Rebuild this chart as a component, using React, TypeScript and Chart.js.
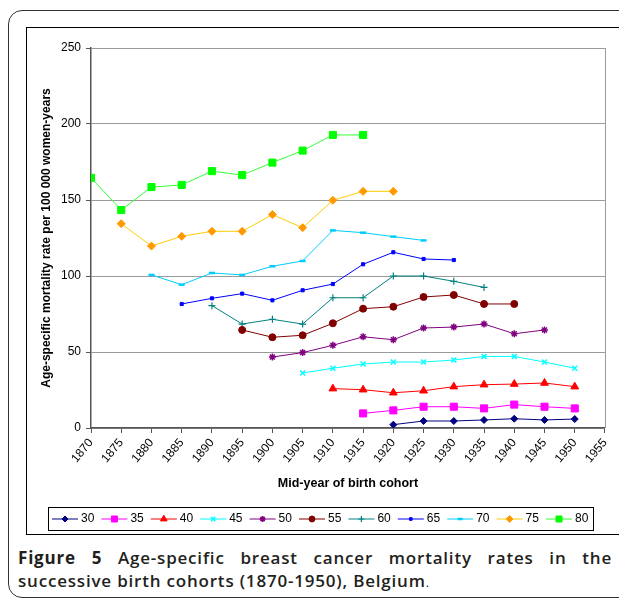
import React, { useEffect, useRef } from "react";
import { Chart, registerables } from "chart.js";
import { drawPoint } from "chart.js/helpers";

Chart.register(...registerables);

const cohortYears = [1870, 1875, 1880, 1885, 1890, 1895, 1900, 1905, 1910, 1915, 1920, 1925, 1930, 1935, 1940, 1945, 1950];
const xTicks = [1870, 1875, 1880, 1885, 1890, 1895, 1900, 1905, 1910, 1915, 1920, 1925, 1930, 1935, 1940, 1945, 1950, 1955];
const yTicks = [0, 50, 100, 150, 200, 250];

const age30 = [null, null, null, null, null, null, null, null, null, null, 2.2, 4.6, 4.6, 5.3, 6.1, 5.3, 5.9];
const age35 = [null, null, null, null, null, null, null, null, null, 9.6, 11.6, 14, 14, 12.9, 15.4, 14, 12.9];
const age40 = [null, null, null, null, null, null, null, null, 25.9, 25.2, 23.2, 24.5, 27.2, 28.5, 28.9, 29.6, 27.2];
const age45 = [null, null, null, null, null, null, null, 36.2, 39.3, 42.1, 43.4, 43.4, 44.7, 47.1, 47.1, 43.4, 39.3];
const age50 = [null, null, null, null, null, null, 46.7, 49.6, 54.4, 60, 58.1, 65.8, 66.4, 68.4, 62, 64.5, null];
const age55 = [null, null, null, null, null, 64.5, 59.7, 61, 68.9, 78.5, 79.8, 86.2, 87.5, 81.6, 81.6, null, null];
const age60 = [null, null, null, null, 80.5, 68.4, 71.5, 68.4, 85.7, 85.7, 100, 100, 96.5, 92.5, null, null, null];
const age65 = [null, null, null, 81.6, 85.3, 88.4, 84, 90.6, 94.7, 107.7, 115.6, 111.2, 110.5, null, null, null, null];
const age70 = [null, null, 100.7, 94.3, 102, 100.7, 106.4, 109.9, 130, 128.5, 125.9, 123.4, null, null, null, null, null];
const age75 = [null, 134.4, 119.7, 126.1, 129.4, 129.4, 140.4, 131.8, 149.8, 155.7, 155.7, null, null, null, null, null, null];
const age80 = [164.6, 143.4, 158.5, 159.9, 169, 166.4, 174.6, 182.5, 192.8, 192.8, null, null, null, null, null, null, null];

const seriesLabels = ["30", "35", "40", "45", "50", "55", "60", "65", "70", "75", "80"];
const seriesValues = [age30, age35, age40, age45, age50, age55, age60, age65, age70, age75, age80];

const styles = [
  { line: "#000080", fill: "#000080", point: "rectRot", r: 3.5, bw: 1 },
  { line: "#FF00FF", fill: "#FF00FF", point: "rect", r: 5, bw: 1 },
  { line: "#FF0000", fill: "#FF0000", point: "triangle", r: 4.5, bw: 1 },
  { line: "#00FFFF", fill: "#00FFFF", point: "crossRot", r: 3.5, bw: 1.5 },
  { line: "#800080", fill: "#800080", point: "star", r: 3.5, bw: 1.5 },
  { line: "#800000", fill: "#800000", point: "circle", r: 3.5, bw: 1 },
  { line: "#008080", fill: "#008080", point: "cross", r: 3.5, bw: 1.2 },
  { line: "#0000FF", fill: "#0000FF", point: "rect", r: 2.2, bw: 1 },
  { line: "#00CCFF", fill: "#00CCFF", point: "line", r: 3, bw: 2.5 },
  { line: "#FFCC00", fill: "#FF9900", point: "rectRot", r: 4, bw: 1 },
  { line: "#33FF33", fill: "#00FF00", point: "rect", r: 5, bw: 1 },
];

const FONT = "'Liberation Sans', Arial, sans-serif";

const frameLegend = {
  id: "frameLegend",
  afterDraw(chart: any) {
    const { ctx, chartArea } = chart;
    ctx.save();
    ctx.strokeStyle = "#9a9a9a";
    ctx.lineWidth = 1;
    ctx.beginPath();
    ctx.moveTo(chartArea.right + 0.5, chartArea.top);
    ctx.lineTo(chartArea.right + 0.5, chartArea.bottom);
    ctx.stroke();

    const bx = 21, by = 479, bw = 545, bh = 23;
    ctx.strokeStyle = "#000";
    ctx.lineWidth = 1;
    ctx.strokeRect(bx + 0.5, by + 0.5, bw, bh);
    const cy = by + bh / 2 + 0.5;
    ctx.font = "12px " + FONT;
    ctx.textBaseline = "middle";
    chart.data.datasets.forEach((ds: any, i: number) => {
      const x0 = 25 + 49.4 * i;
      ctx.strokeStyle = ds.borderColor;
      ctx.lineWidth = 1;
      ctx.beginPath();
      ctx.moveTo(x0, cy);
      ctx.lineTo(x0 + 26, cy);
      ctx.stroke();
      ctx.fillStyle = ds.pointBackgroundColor;
      ctx.strokeStyle = ds.pointBorderColor;
      ctx.lineWidth = ds.pointBorderWidth;
      drawPoint(ctx, { pointStyle: ds.pointStyle, radius: ds.pointRadius * 0.85, rotation: 0, borderWidth: ds.pointBorderWidth }, x0 + 13, cy);
      ctx.fillStyle = "#000";
      ctx.textAlign = "left";
      ctx.fillText(ds.label, x0 + 29, cy);
    });
    ctx.restore();
  },
};

export default function App() {
  const ref = useRef<HTMLCanvasElement | null>(null);
  useEffect(() => {
    if (!ref.current) return;
    const datasets = seriesValues.map((vals, i) => ({
      label: seriesLabels[i],
      data: cohortYears.map((x, j) => ({ x, y: vals[j] })),
      borderColor: styles[i].line,
      backgroundColor: styles[i].fill,
      borderWidth: 1,
      pointStyle: styles[i].point,
      pointRadius: styles[i].r,
      pointHoverRadius: styles[i].r,
      pointBackgroundColor: styles[i].fill,
      pointBorderColor: styles[i].fill,
      pointBorderWidth: styles[i].bw,
      tension: 0,
      spanGaps: false,
    }));
    const chart = new Chart(ref.current, {
      type: "line",
      data: { datasets },
      options: {
        animation: false,
        responsive: false,
        maintainAspectRatio: false,
        layout: { padding: { left: 0, top: 20, right: 8, bottom: 0 } },
        plugins: { legend: { display: false }, tooltip: { enabled: false } },
        scales: {
          x: {
            type: "linear",
            min: xTicks[0],
            max: xTicks[xTicks.length - 1],
            afterBuildTicks: (scale: any) => {
              scale.ticks = xTicks.map((v) => ({ value: v }));
            },
            afterFit: (scale: any) => {
              scale.height = 105;
            },
            grid: { display: true, drawOnChartArea: false, drawTicks: true, tickLength: 5, color: "#555", tickColor: "#555", lineWidth: 1 },
            border: { display: true, color: "#555", width: 1.5 },
            ticks: {
              autoSkip: false,
              minRotation: 50,
              maxRotation: 50,
              padding: 3,
              color: "#000",
              font: { family: FONT, size: 12 },
              callback: (v: any) => String(v),
            },
            title: {
              display: true,
              text: "Mid-year of birth cohort",
              color: "#000",
              font: { family: FONT, size: 12.5, weight: "bold" },
              padding: { top: 0, bottom: 41.5 },
            },
          },
          y: {
            min: 0,
            max: 250,
            afterBuildTicks: (scale: any) => {
              scale.ticks = yTicks.map((v) => ({ value: v }));
            },
            afterFit: (scale: any) => {
              scale.width = 64;
            },
            grid: { color: "#9a9a9a", tickColor: "#555", tickLength: 5, lineWidth: 1 },
            border: { display: true, color: "#555", width: 1.5 },
            ticks: {
              padding: 5,
              color: "#000",
              font: { family: FONT, size: 12 },
              callback: (v: any) => String(v),
            },
            title: {
              display: true,
              text: "Age-specific mortality rate per 100 000 women-years",
              color: "#000",
              font: { family: FONT, size: 12, weight: "bold" },
              padding: { top: 12.8, bottom: 0 },
            },
          },
        },
      },
      plugins: [frameLegend],
    });
    return () => chart.destroy();
  }, []);

  return (
    <div style={{ position: "absolute", left: 0, top: 0, width: 619, height: 605, overflow: "hidden", background: "#fff" }}>
      <div style={{ position: "absolute", left: 8, top: 10, width: 700, height: 586, border: "1.5px solid #333", borderRadius: 14 }} />
      <div style={{ position: "absolute", left: 26, top: 27, width: 700, height: 506, border: "1px solid #000" }} />
      <canvas ref={ref} width={592} height={505} style={{ position: "absolute", left: 27, top: 28, width: 592, height: 505 }} />
      <div style={{ position: "absolute", left: 18, top: 546, width: 594, fontFamily: "'Open Sans', sans-serif", fontSize: 17, letterSpacing: "0.8px", lineHeight: "23px", color: "#231f20", fontWeight: 600 }}>
        <div style={{ textAlign: "justify", textAlignLast: "justify", whiteSpace: "nowrap" as any }}>
          <span style={{ fontWeight: 700 }}>Figure 5</span> Age-specific breast cancer mortality rates in the
        </div>
        <div>successive birth cohorts (1870-1950), Belgium<span style={{ fontWeight: 400, fontSize: 12 }}>.</span></div>
      </div>
    </div>
  );
}
